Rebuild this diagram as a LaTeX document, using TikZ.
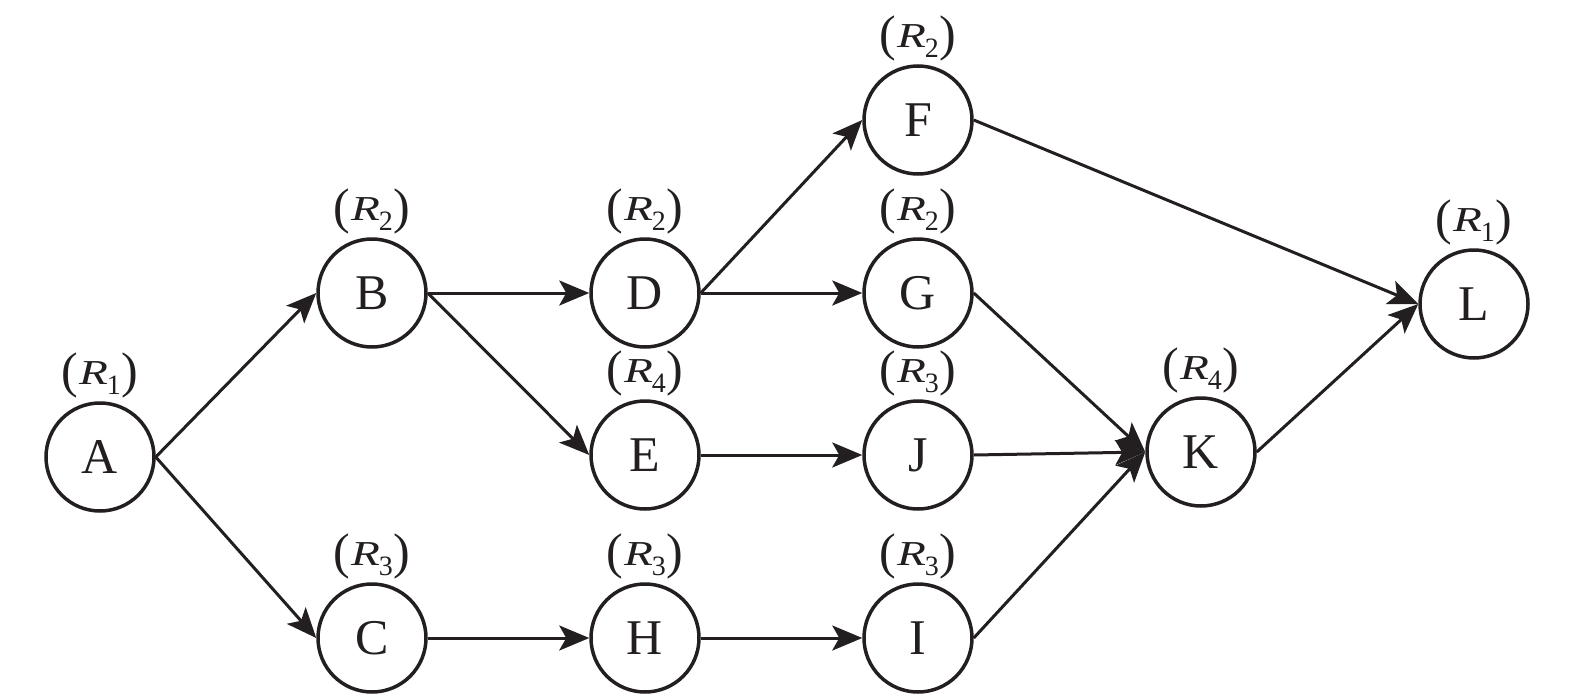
\documentclass[tikz,border=0pt]{standalone}
\usepackage{fontspec}
\setmainfont{Liberation Serif}
\usetikzlibrary{arrows.meta,calc}
\definecolor{ink}{RGB}{35,31,32}
\newcommand\parenf[1]{\raisebox{-3pt}{\fontsize{50}{50}\selectfont #1}}
\newcommand\rlab[1]{\parenf{(}\kern1pt{\fontsize{35}{35}\selectfont\scalebox{1.35}[1]{\textit{R}}}\kern-1pt\raisebox{-10pt}{\fontsize{28}{28}\selectfont #1}\kern1pt\parenf{)}}
\begin{document}
\begin{tikzpicture}[x=1pt,y=-1pt,
  vtx/.style={circle,draw=ink,line width=3.5pt,minimum size=108pt,inner sep=0pt,text=ink,font=\fontsize{50}{50}\selectfont},
  edge/.style={draw=ink,line width=3pt,-{Stealth[length=30pt,width=25pt,inset=7pt]}},
  lab/.style={anchor=base,inner sep=0pt,text=ink}]
\useasboundingbox (0,0) rectangle (1575,699);
\node[vtx] (A) at (100,457) {A};
\node[vtx] (B) at (372,293) {B};
\node[vtx] (C) at (372,638) {C};
\node[vtx] (D) at (645,293) {D};
\node[vtx] (E) at (645,455) {E};
\node[vtx] (F) at (918,120) {F};
\node[vtx] (G) at (918,293) {G};
\node[vtx] (J) at (918,455) {J};
\node[vtx] (H) at (645,638) {H};
\node[vtx] (I) at (918,638) {I};
\node[vtx] (K) at (1201,452) {K};
\node[vtx] (L) at (1474,304) {L};
\foreach \n/\r in {A/1,B/2,C/3,D/2,E/4,F/2,G/2,J/3,H/3,I/3,K/4,L/1}{
  \node[lab] (lab\n) at ($(\n.center)+(0,-73)$) {\rlab{\r}};
}
\foreach \s/\t in {A/B,A/C,B/D,B/E,C/H,D/F,D/G,E/J,H/I,F/L,G/K,J/K,I/K,K/L}{
  \draw[edge] (\s.east) -- (\t.west);
}
\end{tikzpicture}
\end{document}
